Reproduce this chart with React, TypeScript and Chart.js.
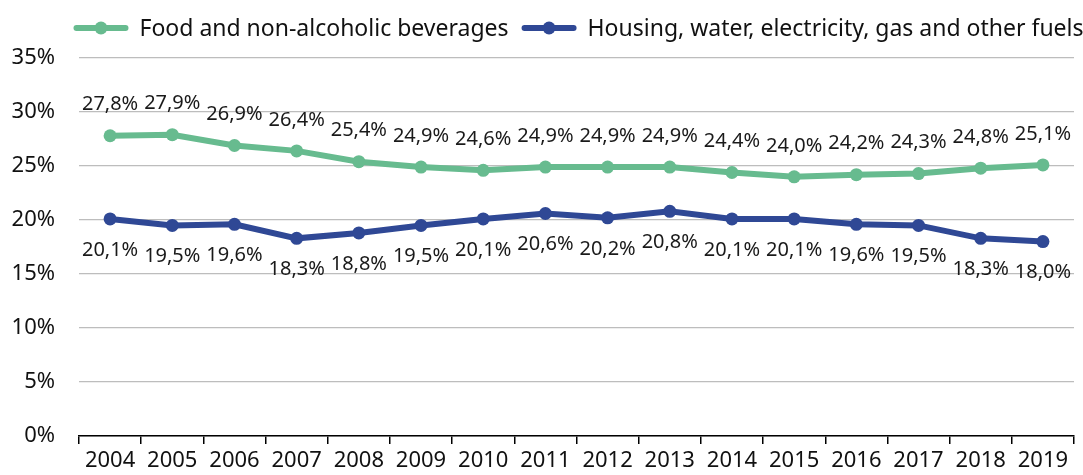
import React, { useEffect, useRef } from "react";
import { Chart, registerables } from "chart.js";

Chart.register(...registerables);

const years = ["2004","2005","2006","2007","2008","2009","2010","2011","2012","2013","2014","2015","2016","2017","2018","2019"];
const foodValues = [27.8, 27.9, 26.9, 26.4, 25.4, 24.9, 24.6, 24.9, 24.9, 24.9, 24.4, 24.0, 24.2, 24.3, 24.8, 25.1];
const housingValues = [20.1, 19.5, 19.6, 18.3, 18.8, 19.5, 20.1, 20.6, 20.2, 20.8, 20.1, 20.1, 19.6, 19.5, 18.3, 18.0];
const seriesNames = ["Food and non-alcoholic beverages", "Housing, water, electricity, gas and other fuels"];
const yTicks = [0, 5, 10, 15, 20, 25, 30, 35];

const GREEN = "#67bb8f";
const BLUE = "#2f4895";
const FONT = "'Noto Sans', sans-serif";

const fmt = (v: number) => v.toFixed(1).replace(".", ",") + "%";

const labelPlugin = {
  id: "valueLabels",
  afterDatasetsDraw(chart: any) {
    const ctx = chart.ctx;
    ctx.save();
    ctx.font = `20px ${FONT}`;
    ctx.fillStyle = "#1a1a1a";
    ctx.textAlign = "center";
    ctx.textBaseline = "middle";
    chart.data.datasets.forEach((ds: any, i: number) => {
      const meta = chart.getDatasetMeta(i);
      meta.data.forEach((pt: any, j: number) => {
        const dy = i === 0 ? -31 : 31;
        ctx.fillText(fmt(ds.data[j]), pt.x, pt.y + dy);
      });
    });
    ctx.restore();
  },
};

const legendPlugin = {
  id: "customLegend",
  afterDraw(chart: any) {
    const ctx = chart.ctx;
    ctx.save();
    ctx.font = `23px ${FONT}`;
    const marker = 55;
    const gap = 11;
    const itemGap = 13;
    const widths = chart.data.datasets.map((ds: any) => marker + gap + ctx.measureText(ds.label).width);
    const total = widths.reduce((a: number, b: number) => a + b, 0) + itemGap * (widths.length - 1);
    let x = 578.5 - total / 2;
    const y = 28;
    chart.data.datasets.forEach((ds: any, i: number) => {
      ctx.strokeStyle = ds.borderColor;
      ctx.lineWidth = 6;
      ctx.lineCap = "round";
      ctx.beginPath();
      ctx.moveTo(x + 3, y);
      ctx.lineTo(x + marker - 3, y);
      ctx.stroke();
      ctx.fillStyle = ds.borderColor;
      ctx.beginPath();
      ctx.arc(x + marker / 2, y, 6.5, 0, Math.PI * 2);
      ctx.fill();
      ctx.fillStyle = "#111";
      ctx.textAlign = "left";
      ctx.textBaseline = "middle";
      ctx.fillText(ds.label, x + marker + gap, y + 1);
      x += widths[i] + itemGap;
    });
    ctx.restore();
  },
};

export default function App() {
  const ref = useRef<HTMLCanvasElement | null>(null);
  useEffect(() => {
    if (!ref.current) return;
    const chart = new Chart(ref.current, {
      type: "line",
      data: {
        labels: years,
        datasets: [
          {
            label: seriesNames[0],
            data: foodValues,
            borderColor: GREEN,
            backgroundColor: GREEN,
            borderWidth: 6,
            pointRadius: 6.5,
            pointBackgroundColor: GREEN,
            pointBorderWidth: 0,
            tension: 0,
          },
          {
            label: seriesNames[1],
            data: housingValues,
            borderColor: BLUE,
            backgroundColor: BLUE,
            borderWidth: 6,
            pointRadius: 6.5,
            pointBackgroundColor: BLUE,
            pointBorderWidth: 0,
            tension: 0,
          },
        ],
      },
      options: {
        animation: false,
        responsive: false,
        maintainAspectRatio: false,
        layout: { padding: { top: 58, right: 9, left: 0, bottom: 0 } },
        plugins: {
          legend: { display: false },
          tooltip: { enabled: false },
        },
        scales: {
          x: {
            offset: true,
            grid: { offset: true, drawOnChartArea: false, drawTicks: true, tickLength: 8, color: "#000", lineWidth: 1.5 },
            border: { color: "#000", width: 1.5 },
            ticks: { color: "#111", font: { family: FONT, size: 22 }, padding: 4, maxRotation: 0, autoSkip: false },
            afterFit: (s: any) => { s.height = 39; },
          },
          y: {
            min: 0,
            max: 35,
            afterBuildTicks: (s: any) => { s.ticks = yTicks.map((v) => ({ value: v })); },
            grid: { color: "#bdbdbd", lineWidth: 1.2, drawTicks: false },
            border: { display: false },
            ticks: { color: "#111", font: { family: FONT, size: 22 }, padding: 24, callback: (v: any) => v + "%" },
            afterFit: (s: any) => { s.width = 79; },
          },
        },
      },
      plugins: [labelPlugin, legendPlugin],
    });
    return () => chart.destroy();
  }, []);
  return (
    <div style={{ position: "fixed", left: 0, top: 0, width: 1083, height: 475, background: "#fff" }}>
      <canvas ref={ref} width={1083} height={475} style={{ width: 1083, height: 475 }} />
    </div>
  );
}
